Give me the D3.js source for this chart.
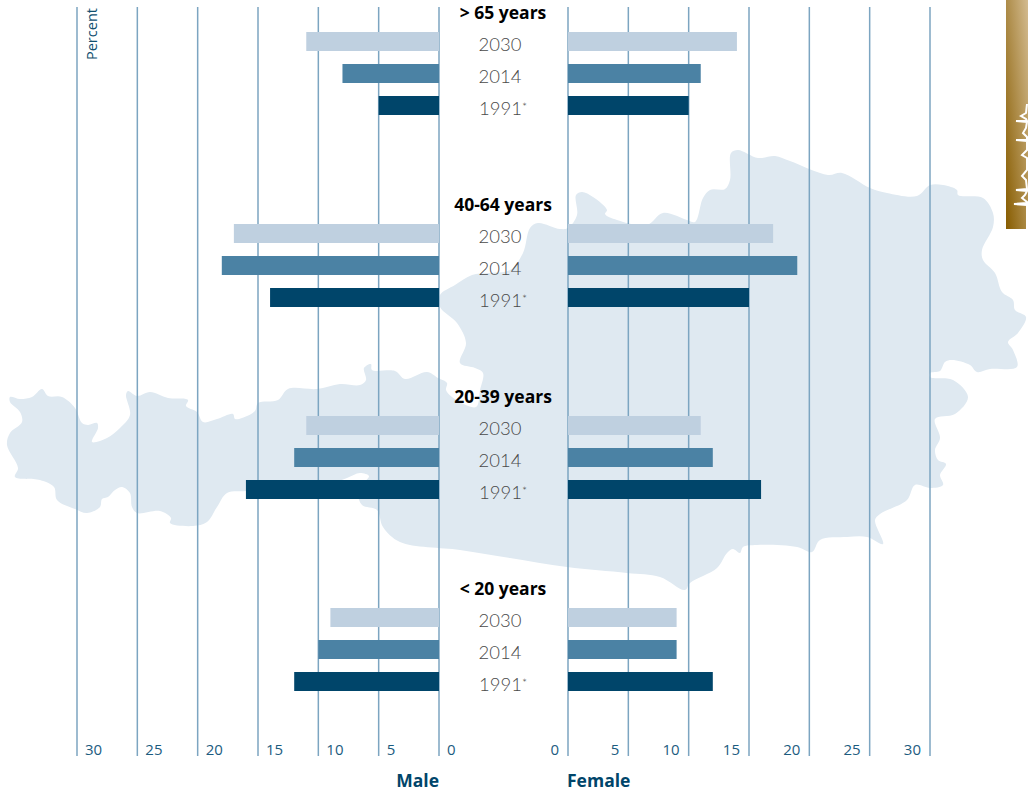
<!DOCTYPE html>
<html><head><meta charset="utf-8">
<script src="https://cdn.jsdelivr.net/npm/d3@7"></script>
<style>html,body{margin:0;padding:0;background:#fff}svg{display:block}text{font-family:"Open Sans",sans-serif}</style>
</head><body><svg id="c" width="1028" height="792"></svg>
<script>
const groups=["> 65 years","40-64 years","20-39 years","< 20 years"];
const years=["2030","2014","1991"];
const yearLabels=["2030","2014","1991*"];
const maleValues=[[11,8,5],[17,18,14],[11,12,16],[9,10,12]];
const femaleValues=[[14,11,10],[17,19,15],[11,12,16],[9,9,12]];
const tickValues=[0,5,10,15,20,25,30];
const yearColors=["#bfd0e0","#4b82a4","#00456a"];
const mapOutline=[[10,397],[20,399],[32,397],[42,389],[48,396],[62,397],[75,408],[82,423],[88,425],[97,423],[98,428],[92,442],[107,438],[120,428],[130,415],[126,395],[128,391],[137,396],[150,392],[168,398],[188,400],[186,406],[197,412],[203,422],[217,419],[233,414],[235,419],[242,418],[255,411],[258,403],[278,400],[288,389],[317,389],[340,384],[360,385],[366,380],[364,368],[371,364],[372,370],[395,371],[405,379],[427,372],[438,378],[447,383],[446,390],[452,397],[476,407],[480,390],[483,373],[475,368],[460,363],[466,343],[457,323],[440,307],[440,295],[455,285],[472,275],[488,273],[510,270],[523,253],[530,228],[538,223],[560,229],[568,228],[577,215],[576,195],[582,192],[593,197],[607,210],[605,214],[617,220],[647,225],[663,213],[687,220],[695,222],[703,198],[710,190],[725,189],[730,180],[731,153],[738,150],[758,158],[775,156],[790,161],[828,175],[842,173],[870,188],[887,193],[917,196],[930,185],[943,185],[957,190],[958,195],[983,198],[993,213],[993,227],[982,250],[983,260],[995,273],[1002,292],[1013,300],[1015,310],[1026,317],[1018,333],[1008,342],[1013,350],[1017,367],[990,369],[977,372],[970,365],[952,360],[945,362],[940,371],[930,373],[930,377],[953,380],[968,397],[955,414],[935,419],[940,438],[935,450],[938,460],[946,464],[940,475],[943,485],[930,488],[915,485],[907,500],[880,514],[875,520],[883,544],[867,537],[847,537],[820,540],[812,552],[797,547],[757,545],[743,547],[740,553],[733,549],[727,553],[717,568],[690,583],[685,590],[660,577],[627,573],[567,567],[510,558],[460,550],[400,542],[383,527],[377,510],[362,505],[358,492],[365,482],[369,476],[360,473],[347,478],[333,483],[300,488],[246,491],[227,493],[217,507],[207,522],[193,526],[170,523],[171,518],[160,511],[137,513],[132,507],[130,493],[122,487],[115,490],[108,497],[102,499],[100,507],[87,513],[75,509],[57,500],[54,487],[40,480],[15,477],[18,468],[7,445],[10,433],[22,422],[20,412],[10,402]];
const squiggle=[[1027,104],[1026,113],[1021,116],[1026,119],[1027,121],[1016,121],[1027,122],[1026,128],[1023,133],[1027,137],[1027,140],[1016,140],[1027,141],[1027,150],[1022,155],[1027,158],[1027,170],[1022,176],[1026,180],[1027,189],[1016,190],[1027,191],[1025,195],[1022,198],[1027,202],[1027,203],[1014,204],[1027,205],[1027,229]];

const svg=d3.select("#c");
const g=svg.append("defs").append("linearGradient").attr("id","tab").attr("x1",1).attr("y1",0).attr("x2",0).attr("y2",1);
g.append("stop").attr("offset",0).attr("stop-color","#d3bb90");
g.append("stop").attr("offset",1).attr("stop-color","#875c00");

svg.append("path").attr("fill","#dfe9f1")
  .attr("d",d3.line().curve(d3.curveCatmullRomClosed.alpha(0.5))(mapOutline));
svg.append("rect").attr("x",1006).attr("y",0).attr("width",22).attr("height",229).attr("fill","url(#tab)");
svg.append("path").attr("fill","none").attr("stroke","#fff").attr("stroke-width",2)
  .attr("d",d3.line()(squiggle));

const xL=d3.scaleLinear().domain([0,30]).range([439,77]);
const xR=d3.scaleLinear().domain([0,30]).range([568,930]);
const yG=d3.scalePoint().domain(groups).range([32,608]);
const yY=d3.scalePoint().domain(years).range([0,64]);
const barH=19, axisY=756, axisTop=7;

function axis(scale,anchor,dx){
  const a=svg.append("g").attr("transform",`translate(0,${axisY})`)
    .call(d3.axisBottom(scale).offset(0).tickValues(tickValues).tickSize(axisTop-axisY).tickFormat(d3.format("d")));
  a.select(".domain").remove();
  a.selectAll(".tick line").attr("stroke","#7ca5c1").attr("stroke-width",1.5);
  a.selectAll(".tick text").attr("y",-1).attr("dy",0).attr("x",dx)
    .attr("text-anchor",anchor).attr("fill","#1c5c7f").attr("font-size",15);
}
axis(xL,"start",8);
axis(xR,"end",-9);

groups.forEach((grp,i)=>{
  years.forEach((yr,j)=>{
    const y=yG(grp)+yY(yr);
    svg.append("rect").attr("x",xL(maleValues[i][j])).attr("y",y).attr("height",barH)
      .attr("width",xL(0)-xL(maleValues[i][j])).attr("fill",yearColors[j]);
    svg.append("rect").attr("x",xR(0)).attr("y",y).attr("height",barH)
      .attr("width",xR(femaleValues[i][j])-xR(0)).attr("fill",yearColors[j]);
    const t=svg.append("text").attr("x",j==2?503:500).attr("y",y+19).attr("text-anchor","middle")
      .attr("fill","#4a4a4a").attr("font-size",18.5).attr("font-weight",300).style("font-family","Lato, 'Open Sans', sans-serif");
    const lab=yearLabels[j];
    if(lab.endsWith("*")){
      t.text(lab.slice(0,-1));
      t.append("tspan").attr("font-size",12).attr("dy",-4).text("*");
    } else t.text(lab);
  });
  svg.append("text").attr("x",503).attr("y",yG(grp)-13).attr("text-anchor","middle")
    .attr("fill","#000").attr("font-size",17.5).attr("font-weight",700).text(grp);
});

svg.append("text").attr("transform","translate(97,60) rotate(-90)").attr("fill","#10506f")
  .attr("font-size",14.5).text("Percent");
svg.append("text").attr("x",439).attr("y",787).attr("text-anchor","end").attr("fill","#00456a")
  .attr("font-size",17.5).attr("font-weight",700).text("Male");
svg.append("text").attr("x",567).attr("y",787).attr("fill","#00456a")
  .attr("font-size",17.5).attr("font-weight",700).text("Female");
</script></body></html>
